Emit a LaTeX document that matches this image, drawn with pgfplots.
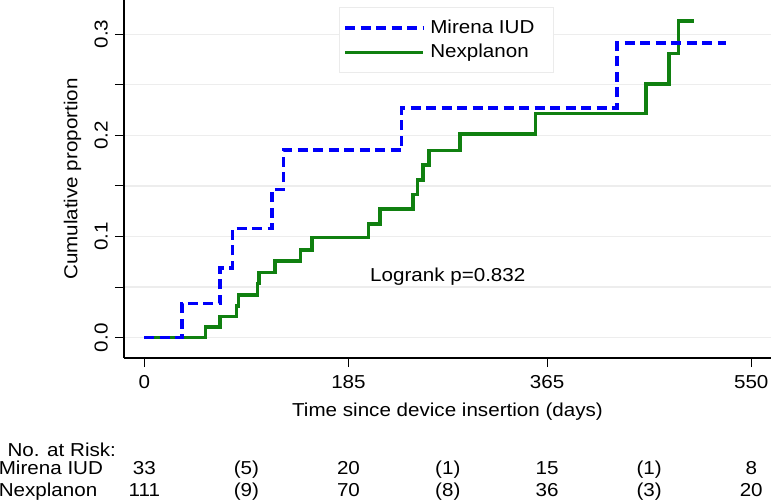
\documentclass[border=0pt]{standalone}
\usepackage{fontspec}
\setmainfont{Liberation Sans}[FakeStretch=1.1]
\usepackage{pgfplots}
\pgfplotsset{compat=1.18}
\definecolor{kmblue}{RGB}{0,0,250}
\definecolor{kmgreen}{RGB}{16,128,16}
\begin{document}
\fontsize{18.8}{22}\selectfont
\begin{tikzpicture}
\useasboundingbox (0,0) rectangle (772bp,501bp);
\begin{axis}[
  at={(124bp,143bp)}, anchor=south west,
  scale only axis, width=647bp, height=358bp,
  xmin=-18.4, xmax=567.9, ymin=-0.02006, ymax=0.3337,
  axis x line*=bottom, axis y line*=left,
  axis line style={line width=1.1bp, black},
  xtick={0,185,365,550},
  ytick={0,0.05,0.1,0.15,0.2,0.25,0.3},
  yticklabels={0.0,,0.1,,0.2,,0.3},
  tick align=outside, major tick length=9bp,
  tick style={black, line width=1bp},
  ymajorgrids, grid style={black!7, line width=1.2bp},
  /pgf/number format/assume math mode=true,
  xticklabel style={anchor=north, inner sep=0pt, yshift=-8bp},
  yticklabel style={xshift=-7bp, rotate=90, anchor=south, inner sep=0pt},
  xlabel={Time since device insertion (days)},
  ylabel={Cumulative proportion},
  xlabel style={at={(axis description cs:0.5,-0.164)}, anchor=base, inner sep=0pt},
  ylabel style={at={(axis description cs:-0.0722,0.5)}, anchor=base, inner sep=0pt},
  clip=false,
  reverse legend,
  legend cell align=left,
  legend image code/.code={\draw[#1] (0bp,0bp) -- (78bp,0bp);},
  legend style={at={(axis description cs:0.3320,0.9796)}, anchor=north west,
    draw=black!8, fill=white, line width=0.8bp, inner xsep=4bp, inner ysep=8bp,
    row sep=0pt, column sep=0pt,
    nodes={inner xsep=5.5bp, inner ysep=3.5bp, text height=14bp, text depth=3.5bp}},
]
\addplot[const plot, kmgreen, line width=3.6bp, line join=miter] coordinates {
(0,0) (55.6,0.0103) (68.6,0.0208) (83.7,0.0313) (85.2,0.0422) (102.4,0.0537)
(104.2,0.0643) (118.7,0.0757) (141.5,0.0867) (151.7,0.0992) (203.0,0.1124)
(213.6,0.1269) (243.7,0.1415) (247.4,0.1558) (252.8,0.1704) (258.2,0.1848)
(286.1,0.2013) (354.5,0.2217) (454.6,0.2504) (475.7,0.2810) (484.2,0.3132)
(498.1,0.3132)};
\addlegendentry{Nexplanon}
\addplot[const plot, kmblue, line width=3.6bp, dash pattern=on 10bp off 5.5bp, line join=miter] coordinates {
(0,0) (33.9,0.0337) (68.6,0.0690) (79.9,0.1080) (115.9,0.1466) (126.0,0.1855)
(233.2,0.2270) (428.1,0.2913) (527.1,0.2913)};
\addlegendentry{Mirena IUD\hspace*{9bp}}
\node[anchor=base west, inner sep=0pt] at (axis cs:-124.1,-0.1175) {No. at Risk:};
\node[anchor=base west, inner sep=0pt] at (axis cs:204.5,0.0553) {Logrank p=0.832};
\node[anchor=base west, inner sep=0pt] at (axis cs:-132,-0.1356) {Mirena IUD};
\node[anchor=base west, inner sep=0pt] at (axis cs:-132,-0.1571) {Nexplanon};
\node[anchor=base, inner sep=0pt] at (axis cs:0,-0.1356) {33};
\node[anchor=base, inner sep=0pt] at (axis cs:92.5,-0.1356) {(5)};
\node[anchor=base, inner sep=0pt] at (axis cs:185,-0.1356) {20};
\node[anchor=base, inner sep=0pt] at (axis cs:275,-0.1356) {(1)};
\node[anchor=base, inner sep=0pt] at (axis cs:365,-0.1356) {15};
\node[anchor=base, inner sep=0pt] at (axis cs:457.5,-0.1356) {(1)};
\node[anchor=base, inner sep=0pt] at (axis cs:550,-0.1356) {8};
\node[anchor=base, inner sep=0pt] at (axis cs:0,-0.1571) {111};
\node[anchor=base, inner sep=0pt] at (axis cs:92.5,-0.1571) {(9)};
\node[anchor=base, inner sep=0pt] at (axis cs:185,-0.1571) {70};
\node[anchor=base, inner sep=0pt] at (axis cs:275,-0.1571) {(8)};
\node[anchor=base, inner sep=0pt] at (axis cs:365,-0.1571) {36};
\node[anchor=base, inner sep=0pt] at (axis cs:457.5,-0.1571) {(3)};
\node[anchor=base, inner sep=0pt] at (axis cs:550,-0.1571) {20};
\end{axis}
\end{tikzpicture}
\end{document}
